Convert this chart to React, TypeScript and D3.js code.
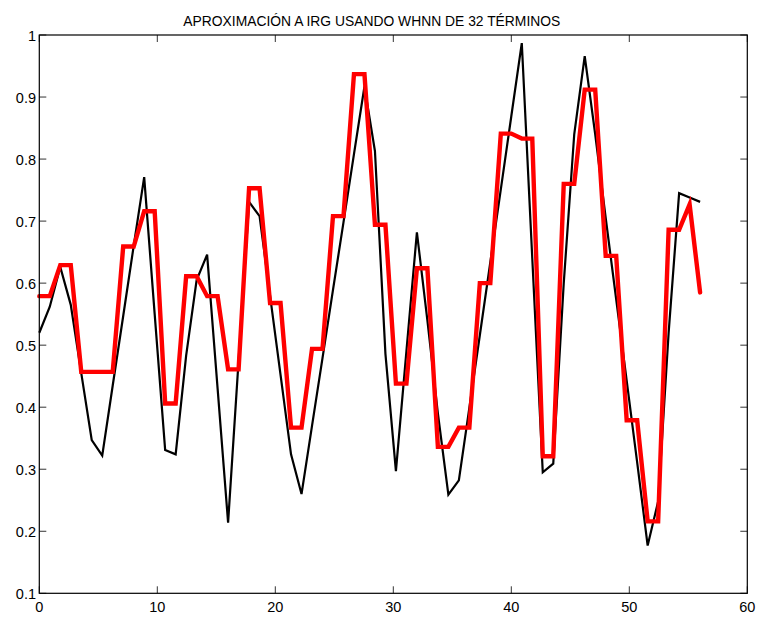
import React, { useEffect, useRef } from "react";
import * as d3 from "d3";

// Sample spacing along the x axis (64 samples spanning 0 .. 56)
const SAMPLE_STEP = 56 / 63;

// Measured IRG signal
const irgValues = [
  0.52, 0.562, 0.626, 0.565, 0.455, 0.347, 0.322, 0.435, 0.547, 0.66,
  0.771, 0.55, 0.331, 0.324, 0.483, 0.605, 0.646, 0.43, 0.214, 0.475,
  0.731, 0.708, 0.58, 0.452, 0.324, 0.26, 0.37, 0.479, 0.589, 0.698,
  0.808, 0.917, 0.813, 0.486, 0.297, 0.49, 0.682, 0.54, 0.39, 0.259,
  0.282, 0.399, 0.516, 0.634, 0.751, 0.869, 0.987, 0.64, 0.295, 0.309,
  0.6, 0.84, 0.966, 0.84, 0.705, 0.574, 0.443, 0.311, 0.177, 0.248,
  0.52, 0.745, 0.738, 0.731,
];

// WHNN approximation with 32 terms
const whnnValues = [
  0.579, 0.579, 0.629, 0.629, 0.457, 0.457, 0.457, 0.457, 0.659, 0.659,
  0.716, 0.716, 0.406, 0.406, 0.611, 0.611, 0.579, 0.579, 0.461, 0.461,
  0.753, 0.753, 0.568, 0.568, 0.367, 0.367, 0.494, 0.494, 0.708, 0.708,
  0.937, 0.937, 0.694, 0.694, 0.438, 0.438, 0.624, 0.624, 0.336, 0.336,
  0.367, 0.367, 0.6, 0.6, 0.841, 0.841, 0.833, 0.833, 0.321, 0.321,
  0.76, 0.76, 0.912, 0.912, 0.644, 0.644, 0.379, 0.379, 0.216, 0.216,
  0.686, 0.686, 0.727, 0.585,
];

const xTicks = [0, 10, 20, 30, 40, 50, 60];
const yTicks = [0.1, 0.2, 0.3, 0.4, 0.5, 0.6, 0.7, 0.8, 0.9, 1];
const titleText = "APROXIMACIÓN A IRG USANDO WHNN DE 32 TÉRMINOS";

const W = 758;
const H = 617;
const left = 39.3;
const right = 747.3;
const top = 35;
const bottom = 593.3;
const FONT = "'Liberation Sans', Arial, sans-serif";

export default function App() {
  const ref = useRef<SVGSVGElement>(null);

  useEffect(() => {
    const svg = d3.select(ref.current);
    svg.selectAll("*").remove();

    const x = d3.scaleLinear().domain([0, 60]).range([left, right]);
    const y = d3.scaleLinear().domain([0.1, 1]).range([bottom, top]);

    svg.append("rect").attr("width", W).attr("height", H).attr("fill", "#fff");

    // Inward ticks on all four sides
    const tickLen = 7;
    const ticks = svg.append("g").attr("stroke", "#333").attr("stroke-width", 1);
    xTicks.forEach((t) => {
      const px = x(t);
      ticks.append("line").attr("x1", px).attr("x2", px).attr("y1", bottom).attr("y2", bottom - tickLen);
      ticks.append("line").attr("x1", px).attr("x2", px).attr("y1", top).attr("y2", top + tickLen);
    });
    yTicks.forEach((t) => {
      const py = y(t);
      ticks.append("line").attr("x1", left).attr("x2", left + tickLen).attr("y1", py).attr("y2", py);
      ticks.append("line").attr("x1", right).attr("x2", right - tickLen).attr("y1", py).attr("y2", py);
    });

    const line = d3
      .line<number>()
      .x((_, i) => x(i * SAMPLE_STEP))
      .y((d) => y(d));

    svg
      .append("path")
      .datum(irgValues)
      .attr("d", line)
      .attr("fill", "none")
      .attr("stroke", "#000")
      .attr("stroke-width", 2.2)
      .attr("stroke-linejoin", "miter");

    svg
      .append("path")
      .datum(whnnValues)
      .attr("d", line)
      .attr("fill", "none")
      .attr("stroke", "#ff0000")
      .attr("stroke-width", 4.4)
      .attr("stroke-linejoin", "miter")
      .attr("stroke-linecap", "round");

    // Axes box
    svg
      .append("rect")
      .attr("x", left)
      .attr("y", top)
      .attr("width", right - left)
      .attr("height", bottom - top)
      .attr("fill", "none")
      .attr("stroke", "#000")
      .attr("stroke-width", 1.2);

    // Tick labels
    xTicks.forEach((t) => {
      svg
        .append("text")
        .attr("x", x(t))
        .attr("y", 612.3)
        .attr("text-anchor", "middle")
        .attr("font-family", FONT)
        .attr("font-size", 14.5)
        .attr("fill", "#000")
        .text(String(t));
    });
    yTicks.forEach((t) => {
      svg
        .append("text")
        .attr("x", 36)
        .attr("y", y(t) + 5.5)
        .attr("text-anchor", "end")
        .attr("font-family", FONT)
        .attr("font-size", 14.5)
        .attr("fill", "#000")
        .text(t === 1 ? "1" : d3.format(".1f")(t));
    });

    svg
      .append("text")
      .attr("x", 183.3)
      .attr("y", 25.7)
      .attr("font-family", FONT)
      .attr("font-size", 15.5)
      .attr("fill", "#000")
      .attr("textLength", 377)
      .attr("lengthAdjust", "spacingAndGlyphs")
      .text(titleText);
  }, []);

  return (
    <div style={{ position: "fixed", left: 0, top: 0 }}>
      <svg ref={ref} width={W} height={H} style={{ display: "block" }} />
    </div>
  );
}
